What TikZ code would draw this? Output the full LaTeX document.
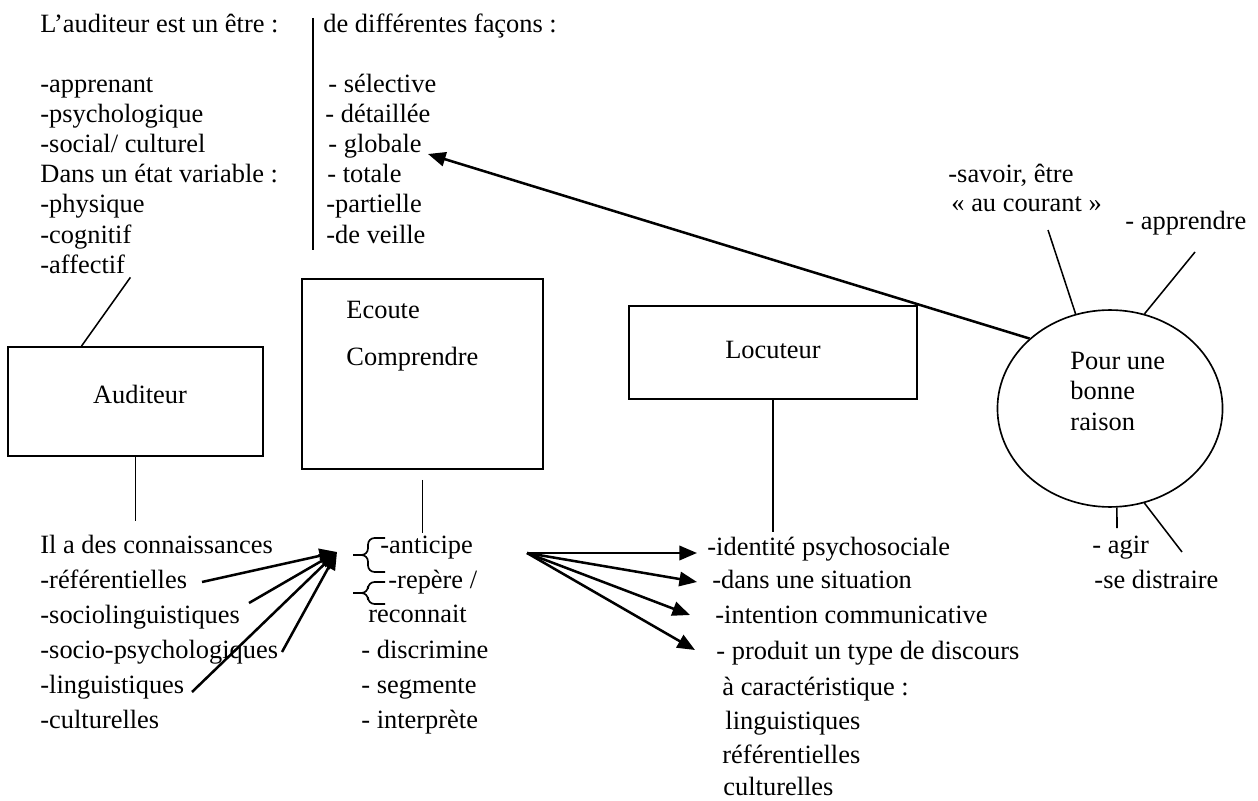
\documentclass[tikz,border=0pt]{standalone}
\usepackage{fontspec}
\setmainfont{Liberation Serif}
\usetikzlibrary{arrows.meta,shapes.geometric,calc}

\tikzset{
    txt/.style={anchor=base west, inner sep=0pt, font=\fontsize{12}{14}\selectfont},
    mot/.style={anchor=base, inner sep=0pt, font=\fontsize{12}{14}\selectfont},
    boite/.style={draw, line width=0.9pt, inner sep=0pt},
    trait/.style={line width=0.7pt},
    fleche/.style={line width=1.15pt, -{Triangle[length=8pt,width=6.5pt]}},
    accolade/.style={line width=0.75pt, rounded corners=3pt},
}

\begin{document}
\begin{tikzpicture}[x=0.4545pt, y=-0.4545pt]
    \useasboundingbox (0,0) rectangle (1258,801);

    % en haut
    \node[txt] (etre) at (40,33) {L’auditeur est un être :};
    \foreach \t [count=\i] in {-apprenant, -psychologique, -social/ culturel,
            Dans un état variable :, -physique, -cognitif, -affectif}
        \node[txt] (etre\i) at (40,{62+30.2*\i}) {\t};
    \draw[line width=0.9pt] (313,18) -- (313,250);
    \node[txt] (facons) at (323,33) {de différentes façons :};
    \foreach \x/\t [count=\i] in {328/- sélective, 325/- détaillée, 328/- globale,
            327/- totale, 326/-partielle, 326/-de veille}
        \node[txt] (facon\i) at (\x,{62+30.2*\i}) {\t};

    % les boites
    \node[boite, minimum width=115.9pt, minimum height=49.5pt] (auditeur) at (135.5,401.5) {};
    \node[mot] (auditeurtxt) at (140,403) {Auditeur};
    \node[boite, minimum width=109.5pt, minimum height=86.4pt] (ecoute) at (422.5,374) {};
    \node[txt] (ecoutetxt) at (346,319) {Ecoute};
    \node[txt] (comprendre) at (346,366) {Comprendre};
    \node[boite, minimum width=130.9pt, minimum height=42.3pt] (locuteur) at (773,352.5) {};
    \node[mot] (locuteurtxt) at (773,358) {Locuteur};
    \node[draw, ellipse, line width=0.75pt, inner sep=0pt,
        minimum width=102.3pt, minimum height=89.5pt] (raison) at (1110,408.5) {};
    \foreach \t [count=\i] in {Pour une, bonne, raison}
        \node[txt] (raisontxt\i) at (1070,{340+30*\i}) {\t};

    % autour du cercle
    \node[txt] (savoir) at (948,183) {-savoir, être};
    \node[txt] (courant) at (951,212) {« au courant »};
    \node[txt] (apprendre) at (1125,230) {- apprendre};
    \node[txt] (agir) at (1092,553) {- agir};
    \node[txt] (distraire) at (1094,588) {-se distraire};
    \coordinate (c1) at (1048,230);
    \coordinate (c2) at (1195,252);
    \coordinate (c3) at (1117,528);
    \coordinate (c4) at (1182,552);
    \draw[trait] (c1) -- (raison.110);
    \draw[trait] (c2) -- (raison.70);
    \draw[trait] (raison.-86) -- (c3);
    \draw[trait] (raison.-70) -- (c4);
    \coordinate (globale) at (428,154);
    \draw[fleche] (raison.139) -- (globale);

    % liaisons des boites
    \draw[trait] ([shift={(5,4)}]etre7.base east) -- ($(auditeur.north west)!0.29!(auditeur.north east)$);
    \draw[trait] (auditeur.south) -- ++(0,64);
    \draw[trait] ([yshift=-4.5pt]ecoute.south) -- ++(0,53);
    \draw[trait] (locuteur.south) -- ++(0,132);

    % en bas a gauche
    \node[txt] (connaiss) at (40,553) {Il a des connaissances};
    \foreach \t [count=\i] in {-référentielles, -sociolinguistiques,
            -socio-psychologiques, -linguistiques, -culturelles}
        \node[txt] (connaiss\i) at (40,{553+35*\i}) {\t};
    \coordinate (hub) at (337,552);
    \coordinate (k1) at (202,582);
    \coordinate (k2) at (249,603);
    \coordinate (k3) at (282,652);
    \coordinate (k4) at (192,692);
    \foreach \k in {k1,k2,k3,k4}
        \draw[fleche] (\k) -- (hub);

    % au milieu
    \draw[accolade] (385,538) -- (368,538) -- (368,555) -- (353,555);
    \draw[accolade] (353,555) -- (368,555) -- (368,572) -- (385,572);
    \draw[accolade] (385,582) -- (368,582) -- (368,593) -- (353,593);
    \draw[accolade] (353,593) -- (368,593) -- (368,604) -- (385,604);
    \node[txt] (anticipe) at (380,553) {-anticipe};
    \node[txt] (repere) at (388,588) {-repère /};
    \node[txt] (reconnait) at (368,622) {reconnait};
    \node[txt] (discrimine) at (361,658) {- discrimine};
    \node[txt] (segmente) at (361,693) {- segmente};
    \node[txt] (interprete) at (361,728) {- interprète};

    % en bas a droite
    \foreach \x/\y/\t [count=\i] in {707/555/-identité psychosociale,
            712/588/-dans une situation, 715/623/-intention communicative,
            716/659/- produit un type de discours, 722/695/à caractéristique :,
            725/729/linguistiques, 722/763/référentielles, 723/795/culturelles}
        \node[txt] (locu\i) at (\x,\y) {\t};
    \coordinate (depart) at (527,553);
    \coordinate (d1) at (697,553);
    \coordinate (d2) at (697,582);
    \coordinate (d3) at (690,615);
    \coordinate (d4) at (695,650);
    \foreach \d in {d1,d2,d3,d4}
        \draw[fleche] (depart) -- (\d);
\end{tikzpicture}
\end{document}
